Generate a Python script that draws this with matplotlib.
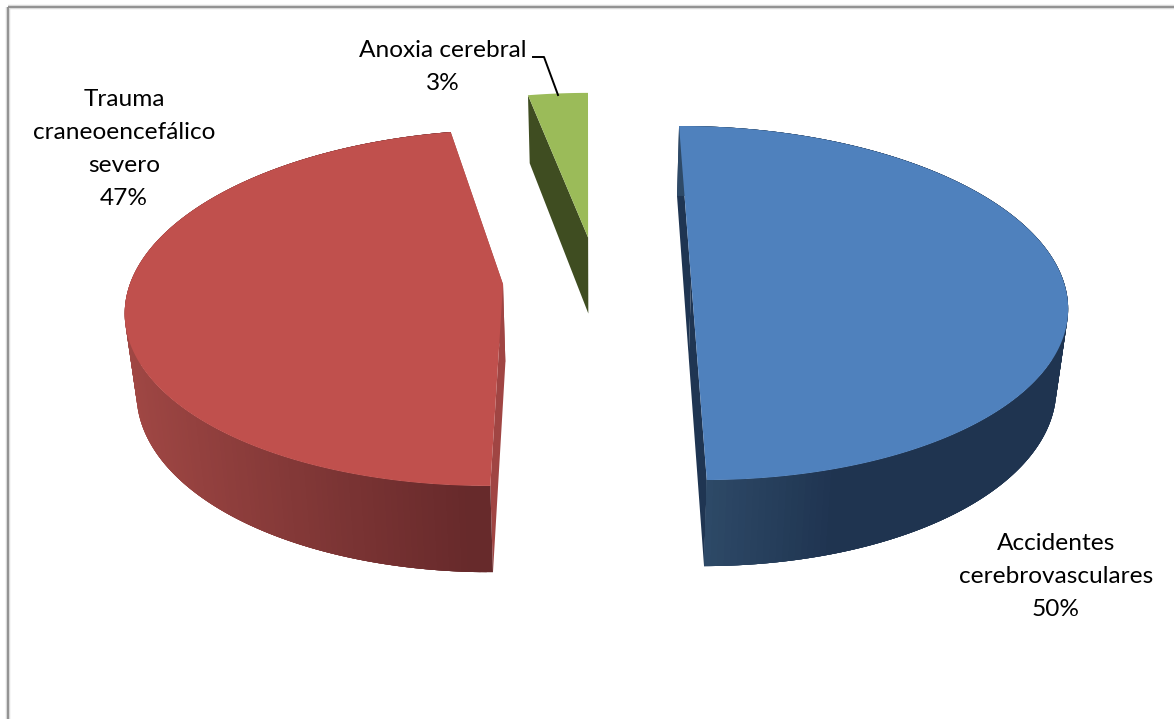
# 3D exploded pie chart, drawn by hand because matplotlib has no 3D pie

import numpy as np
import matplotlib.pyplot as plt
from matplotlib.colors import to_rgb

# Data
categories = ["Accidentes\ncerebrovasculares", "Trauma\ncraneoencefálico\nsevero", "Anoxia cerebral"]
values = [50, 47, 3]

# Colours of each slice
top_colors = ["#4f81bd", "#c0504d", "#9bbb59"]
cut_colors = ["#1f3552", "#a04543", "#3f4d21"]

# Projection settings, fitted on the picture
X0, Y0 = 597.0, 280.0
A, B = 372.0, 174.0
K = 0.131
DEPTH = 78.0
DEPTH_TILT = 8.1
SHRINK = 0.975
START = -0.2
EXPLODE = 0.253

plt.rcParams['font.family'] = ['Lato', 'DejaVu Sans']
fig = plt.figure(figsize=(11.74, 7.19), dpi=100)
ax = fig.add_axes([0, 0, 1, 1])
ax.set_xlim(0, 1174)
ax.set_ylim(719, 0)
ax.axis('off')


def project(u, v, bottom=False):
    w = 1 + K * v
    x = X0 + A * u / w
    y = Y0 - B * v / w
    if bottom:
        x = X0 + (x - X0) * SHRINK
        y = y + DEPTH - DEPTH_TILT * v
    return x, y


# wall shading changes with the position on screen
def wall_color(i, x):
    if i == 0:
        f = np.clip((x - 706) / 134, 0, 1)
        return np.array(to_rgb("#2e4a68")) * (1 - f) + np.array(to_rgb("#1f3450")) * f
    f = np.clip((488 - x) / 358, 0, 1)
    return np.array(to_rgb("#672a2b")) * (1 - f) + np.array(to_rgb("#a04744")) * f


# Chart frame
ax.plot([8, 8], [7, 719], color="#d9d9d9", lw=3.2, solid_capstyle='butt', zorder=1)
ax.plot([8, 1174], [7, 7], color="#d9d9d9", lw=3.2, solid_capstyle='butt', zorder=1)
ax.plot([8, 8], [7, 719], color="#8c8c8c", lw=1.3, solid_capstyle='butt', zorder=1)
ax.plot([8, 1174], [7, 7], color="#8c8c8c", lw=1.3, solid_capstyle='butt', zorder=1)

# Slices
angle = START
total = sum(values)
for i in range(len(values)):
    span = values[i] / total * 360
    mid = np.radians(angle + span / 2)
    cu = EXPLODE * np.sin(mid)
    cv = EXPLODE * np.cos(mid)
    t = np.radians(np.linspace(angle, angle + span, 200))
    u = cu + np.sin(t)
    v = cv + np.cos(t)
    tx, ty = project(u, v)
    bx, by = project(u, v, bottom=True)
    px, py = project(cu, cv)
    pbx, pby = project(cu, cv, bottom=True)

    # cut faces, the green slice only shows its left one
    for j in ([0] if i == 2 else [0, -1]):
        ax.fill([px, tx[j], bx[j], pbx], [py, ty[j], by[j], pby],
                color=cut_colors[i], lw=0, zorder=2 + i)

    # outer wall, overlapping strips so the colour can change along the arc
    if i < 2:
        order = range(len(t) - 1) if i == 0 else range(len(t) - 2, -1, -1)
        for j in order:
            j2 = min(j + 4, len(t) - 1)
            xs = np.r_[tx[j:j2 + 1], bx[j:j2 + 1][::-1]]
            ys = np.r_[ty[j:j2 + 1], by[j:j2 + 1][::-1]]
            ax.fill(xs, ys, color=wall_color(i, tx[j]), lw=0, zorder=2 + i)

    # top face
    ax.fill(np.r_[px, tx], np.r_[py, ty], color=top_colors[i], lw=0, zorder=3 + i)
    angle += span

# Leader line for the small slice
ax.plot([533, 544, 558], [57, 57, 95], color="black", lw=1.4, zorder=10)

# Labels, one text per line to keep the line spacing even
label_pos = [(1056, 550), (124, 106), (443, 57)]
for name, val, pos in zip(categories, values, label_pos):
    lines = name.split("\n") + [f"{val}%"]
    for n in range(len(lines)):
        ax.text(pos[0], pos[1] + 32.9 * n, lines[n], ha='center', va='baseline', fontsize=17.6,
                color="black", zorder=11)

fig.savefig("out.png", dpi=100)
